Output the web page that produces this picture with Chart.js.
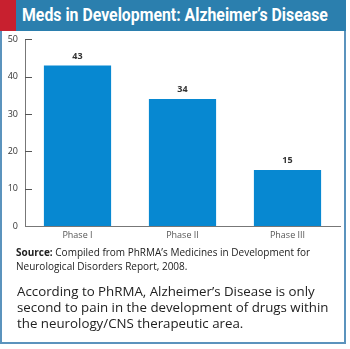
<!DOCTYPE html>
<html>
<head>
<meta charset="utf-8">
<script src="https://cdn.jsdelivr.net/npm/chart.js@4"></script>
<style>
  html, body { margin: 0; padding: 0; background: #fff; }
  body { width: 350px; height: 349px; position: relative; overflow: hidden; font-family: "Open Sans", sans-serif; }
  .card { position: absolute; left: 0; top: 0; width: 346px; height: 344px; box-sizing: border-box; border: 2px solid #5b93bd; }
  .header { position: absolute; left: 0; top: 0; width: 346px; height: 31px; background: #2b7fae; }
  .stripe { position: absolute; left: 0; top: 0; width: 16px; height: 31px; background: #c8202f; }
  .title { position: absolute; left: 22px; top: 4px; color: #fff; font-family: Roboto, sans-serif; font-weight: bold; font-size: 18px; white-space: nowrap; transform: scaleX(0.88); transform-origin: left center; }
  .chart-box { position: absolute; left: 0; top: 27px; width: 346px; height: 219px; }
  .source { position: absolute; left: 16px; top: 245px; font-size: 10px; line-height: 14px; color: #222; }
  .note { position: absolute; left: 17px; top: 283px; font-size: 13.3px; line-height: 16px; color: #222; }
</style>
</head>
<body>
<div class="card"></div>
<div class="header"><div class="stripe"></div><div class="title">Meds in Development: Alzheimer’s Disease</div></div>
<div class="chart-box"><canvas id="chart" width="346" height="219"></canvas></div>
<div class="source"><b>Source:</b> Compiled from PhRMA’s Medicines in Development for<br>Neurological Disorders Report, 2008.</div>
<div class="note">According to PhRMA, Alzheimer’s Disease is only<br>second to pain in the development of drugs within<br>the neurology/CNS therapeutic area.</div>
<script>
const phases = ["Phase I", "Phase II", "Phase III"];
const medCounts = [43, 34, 15];
const yTicks = [0, 10, 20, 30, 40, 50];

// value labels above the bars + inner tick marks on the y axis
const extras = {
  id: "extras",
  afterDraw(chart) {
    const ctx = chart.ctx;
    const meta = chart.getDatasetMeta(0);
    ctx.save();
    ctx.fillStyle = "#333";
    ctx.font = "bold 9px 'Open Sans'";
    ctx.textAlign = "center";
    ctx.textBaseline = "bottom";
    meta.data.forEach((bar, i) => {
      ctx.fillText(medCounts[i], bar.x, bar.y - 5);
    });
    const y = chart.scales.y;
    const left = chart.chartArea.left;
    ctx.strokeStyle = "#555";
    ctx.lineWidth = 1;
    yTicks.forEach((v) => {
      if (v === 0) return;
      const py = Math.round(y.getPixelForValue(v)) + 0.5;
      ctx.beginPath();
      ctx.moveTo(left, py);
      ctx.lineTo(left + 7, py);
      ctx.stroke();
    });
    ctx.restore();
  },
};

new Chart(document.getElementById("chart"), {
  type: "bar",
  data: {
    labels: phases,
    datasets: [
      {
        data: medCounts,
        backgroundColor: "#0788d1",
        barPercentage: 0.64,
        categoryPercentage: 1,
      },
    ],
  },
  options: {
    responsive: false,
    animation: false,
    devicePixelRatio: 1,
    layout: { padding: { left: 0, right: 6, top: 0, bottom: 0 } },
    plugins: { legend: { display: false }, tooltip: { enabled: false } },
    scales: {
      x: {
        grid: { display: false, drawTicks: false },
        border: { display: true, color: "#777", width: 1 },
        ticks: { color: "#555", font: { size: 9, family: "'Open Sans'" }, padding: 4 },
        afterFit: (s) => { s.height = 20; },
      },
      y: {
        min: 0,
        max: 50,
        grid: { display: false, drawTicks: false },
        border: { display: true, color: "#777", width: 1 },
        ticks: {
          stepSize: 10,
          color: "#333",
          font: { size: 9, family: "'Open Sans'" },
          padding: 7,
          callback: (v) => (yTicks.includes(v) ? v : ""),
        },
        afterFit: (s) => { s.width = 25; },
      },
    },
  },
  plugins: [extras],
});
</script>
</body>
</html>
